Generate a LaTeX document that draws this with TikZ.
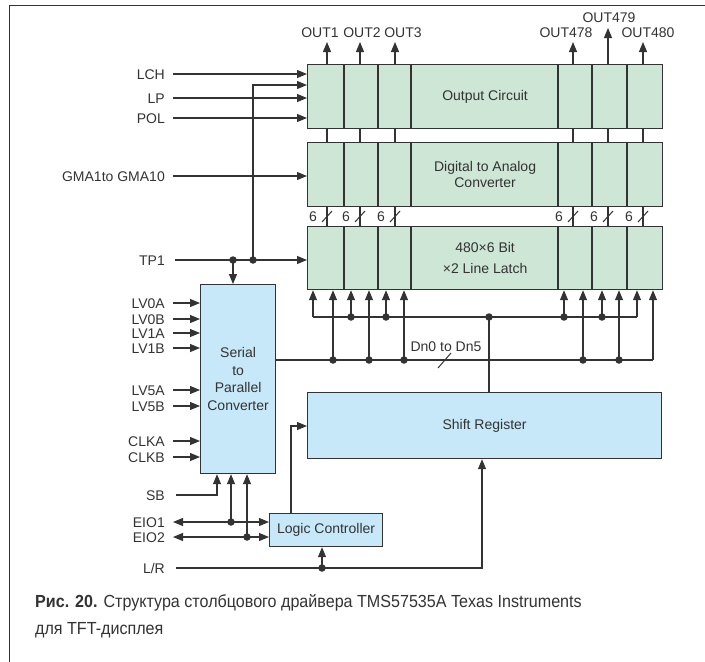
\documentclass[tikz,border=0pt]{standalone}
\usepackage{fontspec}
\setmainfont{Liberation Sans}
\newfontfamily\capfont[FakeStretch=0.92]{Liberation Sans}
\usetikzlibrary{arrows.meta,calc}
\definecolor{gfill}{HTML}{CDE6D5}
\definecolor{bfill}{HTML}{C7E8F8}
\definecolor{ink}{HTML}{333333}
\newcommand\dfont{\fontsize{14}{16.7}\selectfont}
\begin{document}
\begin{tikzpicture}[x=1pt,y=-1pt,
  ln/.style={draw=ink, line width=1.1pt},
  arr/.style={ln, -{Triangle[length=10pt,width=8pt]}},
  darr/.style={ln, {Triangle[length=10pt,width=8pt]}-{Triangle[length=10pt,width=8pt]}},
  gbox/.style={draw=ink, line width=1.2pt, fill=gfill, anchor=north west, inner sep=0pt, text=ink, font=\dfont, align=center},
  bbox/.style={gbox, fill=bfill},
  divider/.style={draw=ink, line width=1.2pt},
  lbl/.style={font=\dfont, text=ink, inner sep=0pt, text height=10pt, text depth=0pt},
  lbr/.style={lbl, anchor=east},
  dotn/.style={circle, fill=ink, inner sep=0pt, minimum size=7.5pt},
  captext/.style={font=\capfont\fontsize{17.5}{20}\selectfont, text=ink, inner sep=0pt, anchor=base west},
]
\useasboundingbox (0,0) rectangle (705,662);
\fill[white] (0,0) rectangle (705,662);
% frame
\draw[draw=ink, line width=1pt] (9,662) -- (9,5) -- (705,5);

% main blocks
\node[gbox, minimum width=355pt, minimum height=64pt] (oc) at (307,64) {Output Circuit};
\node[gbox, minimum width=355pt, minimum height=64pt] (dac) at (307,142) {Digital to Analog\\Converter};
\node[gbox, minimum width=355pt, minimum height=63pt, font=\fontsize{14}{21}\selectfont] (lat) at (307,226) {480×6 Bit\\×2 Line Latch};
\node[bbox, minimum width=75pt, minimum height=189pt, font=\fontsize{14}{17.7}\selectfont] (sp) at (200,284) {Serial\\to\\Parallel\\Converter};
\node[bbox, minimum width=354pt, minimum height=66pt] (sr) at (307,392) {Shift Register};
\node[bbox, minimum width=113pt, minimum height=33pt] (lc) at (269,513) {Logic Controller};

% column dividers
\foreach \x in {344,378,411,558,592,627} {
  \draw[divider] (\x,64) -- (\x,128);
  \draw[divider] (\x,142) -- (\x,206);
  \draw[divider] (\x,226) -- (\x,289);
}

% columns, outputs, links
\foreach \i/\x/\y in {1/327/42,2/360/42,3/395/42,4/573/42,5/608/28,6/643/42} {
  \coordinate (c\i) at (\x,0);
  \coordinate (o\i) at (\x,\y);
  \draw[arr] (o\i |- oc.north) -- (o\i);
  \draw[ln] (c\i |- oc.south) -- (c\i |- dac.north);
  \draw[ln] (c\i |- dac.south) -- (c\i |- lat.north);
  \draw[ln, line width=1pt] ($(c\i |- lat.north)+(-5,-4)$) -- ++(10,-11);
  \node[lbl] at ($(c\i |- lat.north)+(-14,-10)$) {6};
}
\node[lbl] (out1) at (320,32) {OUT1};
\node[lbl] (out2) at (362,32) {OUT2};
\node[lbl] (out3) at (403,32) {OUT3};
\node[lbl] (out478) at (566,32) {OUT478};
\node[lbl] (out479) at (609,17) {OUT479};
\node[lbl] (out480) at (648,32) {OUT480};

% left inputs to upper blocks
\node[lbr] (lch) at (165,74) {LCH};
\node[lbr] (lp) at (165,98) {LP};
\node[lbr] (pol) at (165,118) {POL};
\node[lbr] (gma) at (165,176) {GMA1to GMA10};
\node[lbr] (tp) at (165,260) {TP1};
\draw[arr] ([xshift=8pt]lch.east) -- (lch.east -| oc.west);
\draw[arr] ([xshift=8pt]lp.east) -- (lp.east -| oc.west);
\draw[arr] ([xshift=8pt]pol.east) -- (pol.east -| oc.west);
\draw[arr] ([xshift=8pt]gma.east) -- (gma.east -| dac.west);
\draw[arr] ([xshift=10pt]tp.east) -- (tp.east -| lat.west);
\coordinate (j1) at (233,260);
\coordinate (j2) at (253,260);
\coordinate (k) at (253,85);
\draw[arr] (j1) -- (j1 |- sp.north);
\draw[arr] (j2) -- (k) -- (k -| oc.west);
\node[dotn] at (j1) {};
\node[dotn] at (j2) {};

% serial converter inputs
\foreach \t/\y in {LV0A/303,LV0B/319,LV1A/333,LV1B/348,LV5A/390,LV5B/406,CLKA/441,CLKB/457} {
  \node[lbr] (n\t) at (165,\y) {\t};
  \draw[arr] ([xshift=8pt]n\t.east) -- (n\t.east -| sp.west);
}

% bottom signals
\node[lbr] (sb) at (165,495) {SB};
\node[lbr] (eio1) at (165,522) {EIO1};
\node[lbr] (eio2) at (165,537) {EIO2};
\node[lbr] (lr) at (165,568) {L/R};
\coordinate (sbx) at (217,495);
\draw[arr] ([xshift=11pt]sb.east) -- (sbx) -- (sbx |- sp.south);
\draw[darr] ([xshift=8pt]eio1.east) -- (eio1.east -| lc.west);
\draw[darr] ([xshift=8pt]eio2.east) -- (eio2.east -| lc.west);
\coordinate (d1) at (231,522);
\coordinate (d2) at (247,537);
\draw[arr] (d1) -- (d1 |- sp.south);
\draw[arr] (d2) -- (d2 |- sp.south);
\node[dotn] at (d1) {};
\node[dotn] at (d2) {};
\coordinate (q) at (291,426);
\draw[arr] (q |- lc.north) -- (q) -- (q -| sr.west);
\coordinate (lrx) at (482,568);
\coordinate (d3) at (322,568);
\draw[arr] ([xshift=11pt]lr.east) -- (lrx) -- (lrx |- sr.south);
\draw[arr] (d3) -- (d3 |- lc.south);
\node[dotn] at (d3) {};

% latch input buses
\coordinate (ub1) at (313,317);
\coordinate (ub2) at (637,317);
\draw[ln] (ub1) -- (ub2);
\foreach \i/\x in {1/313,2/351,3/386,4/564,5/602,6/637} {
  \coordinate (u\i) at (\x,317);
  \draw[arr] (u\i) -- (u\i |- lat.south);
}
\coordinate (ujn) at (489,317);
\draw[ln] (ujn) -- (ujn |- sr.north);
\foreach \i in {2,3,4,5} \node[dotn] at (u\i) {};
\node[dotn] at (ujn) {};

\coordinate (lb) at (653,360);
\draw[ln] (sp.east |- lb) -- (lb);
\foreach \i/\x in {1/333,2/369,3/404,4/583,5/619,6/653} {
  \coordinate (v\i) at (\x,360);
  \draw[arr] (v\i) -- (v\i |- lat.south);
}
\foreach \i in {1,2,3,4,5} \node[dotn] at (v\i) {};
\node[lbl] (dn) at (446,346) {Dn0 to Dn5};
\draw[ln, line width=1pt] (438,368) -- (451,353);

% caption
\node[captext] (cap1) at (35,607) {\textbf{Рис. 20.} Структура столбцового драйвера TMS57535A Texas Instruments};
\node[captext] (cap2) at (35,634) {для TFT-дисплея};
\end{tikzpicture}
\end{document}
